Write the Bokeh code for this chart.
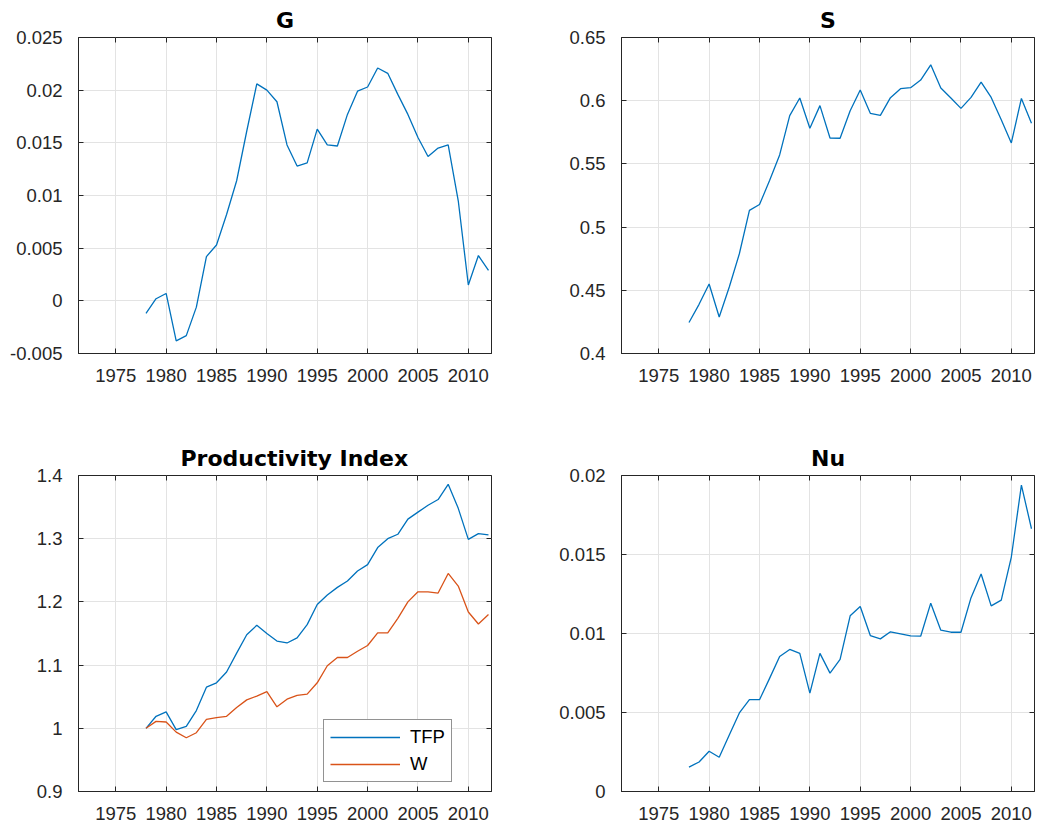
from bokeh.plotting import figure
from bokeh.layouts import column, row
from bokeh.models import Range1d, FixedTicker, Legend, LegendItem, LinearAxis
from bokeh.embed import file_html
from bokeh.resources import INLINE

years = list(range(1978, 2013))

g_values = [-0.0012, 0.0002, 0.0007, -0.0038, -0.0033, -0.0006, 0.0042, 0.0053, 0.0082, 0.0114,
            0.0161, 0.0206, 0.0200, 0.0189, 0.0148, 0.0128, 0.0131, 0.0163, 0.0148, 0.0147,
            0.0177, 0.0199, 0.0203, 0.0221, 0.0216, 0.0196, 0.0177, 0.0155, 0.0137, 0.0145,
            0.0148, 0.0095, 0.0015, 0.0043, 0.0029]

s_values = [0.4245, 0.4389, 0.4550, 0.4289, 0.4526, 0.4789, 0.5132, 0.5179, 0.5368, 0.5571,
            0.5882, 0.6021, 0.5782, 0.5961, 0.5705, 0.5703, 0.5921, 0.6084, 0.5900, 0.5884,
            0.6024, 0.6095, 0.6103, 0.6163, 0.6284, 0.6100, 0.6021, 0.5939, 0.6026, 0.6147,
            0.6026, 0.5850, 0.5666, 0.6018, 0.5821]

tfp_values = [1.000, 1.019, 1.026, 0.998, 1.003, 1.028, 1.065, 1.072, 1.089, 1.119,
              1.148, 1.163, 1.150, 1.138, 1.135, 1.143, 1.164, 1.196, 1.211, 1.223,
              1.233, 1.249, 1.259, 1.286, 1.300, 1.307, 1.331, 1.342, 1.353, 1.362,
              1.386, 1.348, 1.299, 1.308, 1.306]

w_values = [1.000, 1.011, 1.010, 0.994, 0.985, 0.993, 1.014, 1.017, 1.019, 1.033,
            1.045, 1.051, 1.058, 1.034, 1.046, 1.052, 1.054, 1.072, 1.099, 1.112,
            1.112, 1.122, 1.131, 1.151, 1.151, 1.174, 1.200, 1.216, 1.216, 1.214,
            1.245, 1.225, 1.184, 1.165, 1.180]

nu_values = [0.00154, 0.00187, 0.00255, 0.00217, 0.00358, 0.00497, 0.00581, 0.00581, 0.00716, 0.00855,
             0.00899, 0.00874, 0.00623, 0.00874, 0.00749, 0.00836, 0.01112, 0.01171, 0.00987, 0.00966,
             0.01011, 0.00998, 0.00985, 0.00983, 0.01192, 0.01021, 0.01008, 0.01008, 0.01227, 0.01377,
             0.01175, 0.01211, 0.01484, 0.01939, 0.01663]

x_ticks = [1975, 1980, 1985, 1990, 1995, 2000, 2005, 2010]

g_ticks = [-0.005, 0.0, 0.005, 0.01, 0.015, 0.02, 0.025]
g_tick_labels = ["-0.005", "0", "0.005", "0.01", "0.015", "0.02", "0.025"]
s_ticks = [0.4, 0.45, 0.5, 0.55, 0.6, 0.65]
s_tick_labels = ["0.4", "0.45", "0.5", "0.55", "0.6", "0.65"]
p_ticks = [0.9, 1.0, 1.1, 1.2, 1.3, 1.4]
p_tick_labels = ["0.9", "1", "1.1", "1.2", "1.3", "1.4"]
nu_ticks = [0.0, 0.005, 0.01, 0.015, 0.02]
nu_tick_labels = ["0", "0.005", "0.01", "0.015", "0.02"]

BLUE = "#0072BD"
ORANGE = "#D95319"
DARK = "#262626"
GRID = "#e3e3e3"
FONT = "Liberation Sans"
TITLE_FONT = "DejaVu Sans"
TICK_FS = "18.5px"


def make_panel(title, yr, yticks, ylabels, width, height, left, right, top, bottom):
    p = figure(width=width, height=height, output_backend="svg", toolbar_location=None,
               x_range=Range1d(1971.3, 2012.3), y_range=Range1d(yr[0], yr[1]),
               min_border_left=left, min_border_right=right,
               min_border_top=top, min_border_bottom=bottom,
               background_fill_color="white", border_fill_color="white")
    p.title.text = title
    p.title.align = "center"
    p.title.text_font = TITLE_FONT
    p.title.text_font_size = "22px"
    p.title.text_font_style = "bold"
    p.title.text_color = "black"
    p.title.standoff = 10
    p.outline_line_color = DARK
    p.outline_line_width = 1
    p.outline_line_alpha = 1

    xt = FixedTicker(ticks=x_ticks)
    yt = FixedTicker(ticks=yticks)
    p.xaxis.ticker = xt
    p.yaxis.ticker = yt
    p.yaxis.major_label_overrides = {t: l for t, l in zip(yticks, ylabels)}
    for ax in (p.xaxis, p.yaxis):
        ax.axis_line_color = DARK
        ax.major_tick_line_color = DARK
        ax.major_tick_in = 5
        ax.major_tick_out = 0
        ax.minor_tick_line_color = None
        ax.major_label_text_font = FONT
        ax.major_label_text_font_size = TICK_FS
        ax.major_label_text_color = DARK
    p.xaxis.major_label_standoff = 15
    p.yaxis.major_label_standoff = 16

    # inner tick marks on the top and right edges of the box (no labels)
    for loc, tk, vals in (("right", yt, yticks), ("above", xt, x_ticks)):
        ax = LinearAxis(ticker=tk, major_tick_in=5, major_tick_out=0,
                        major_tick_line_color=DARK, minor_tick_line_color=None,
                        axis_line_color=None, major_label_text_color=None,
                        major_label_text_font_size="1px", major_label_standoff=0,
                        major_label_overrides={v: "" for v in vals})
        p.add_layout(ax, loc)

    p.xgrid.ticker = xt
    p.ygrid.ticker = yt
    p.xgrid.grid_line_color = GRID
    p.ygrid.grid_line_color = GRID
    p.xgrid.grid_line_width = 1
    p.ygrid.grid_line_width = 1
    return p


p1 = make_panel("G", (-0.005, 0.025), g_ticks, g_tick_labels, 511, 403, 78, 20, 36, 50)
p1.line(years, g_values, line_color=BLUE, line_width=1.3)

p2 = make_panel("S", (0.4, 0.65), s_ticks, s_tick_labels, 525, 403, 110, 2, 36, 50)
p2.line(years, s_values, line_color=BLUE, line_width=1.3)

p3 = make_panel("Productivity Index", (0.9, 1.4), p_ticks, p_tick_labels, 511, 424, 78, 20, 72, 36)
p3.title.align = "left"
p3.title.offset = 102
r_tfp = p3.line(years, tfp_values, line_color=BLUE, line_width=1.3)
r_w = p3.line(years, w_values, line_color=ORANGE, line_width=1.3)
legend = Legend(items=[LegendItem(label="TFP", renderers=[r_tfp]),
                       LegendItem(label="W", renderers=[r_w])],
                location=(245, 9), padding=6, spacing=5, margin=0,
                glyph_width=70, glyph_height=18, label_height=18, label_standoff=10,
                label_text_font=FONT, label_text_font_size=TICK_FS, label_text_color="black",
                border_line_color=DARK, border_line_width=1, background_fill_color="white",
                background_fill_alpha=1)
p3.add_layout(legend)

p4 = make_panel("Nu", (0.0, 0.02), nu_ticks, nu_tick_labels, 525, 424, 110, 2, 72, 36)
p4.line(years, nu_values, line_color=BLUE, line_width=1.3)

layout = column(row(p1, p2), row(p3, p4))

with open("out.html", "w") as f:
    f.write(file_html(layout, INLINE))
